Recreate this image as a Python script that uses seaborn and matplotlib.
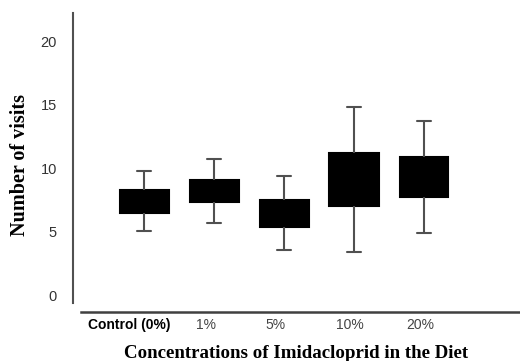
import matplotlib
matplotlib.use("Agg")
import matplotlib.pyplot as plt
import matplotlib.transforms as mtransforms
import seaborn as sns
import pandas as pd

# ---- data ----
categories = ["Control (0%)", "1%", "5%", "10%", "20%"]
whisker_low = [5.05, 5.68, 3.55, 3.40, 4.89]
q1 = [6.49, 7.33, 5.36, 7.04, 7.77]
median = [7.40, 8.20, 6.40, 9.10, 9.30]
q3 = [8.32, 9.08, 7.48, 11.18, 10.86]
whisker_high = [9.79, 10.73, 9.42, 14.80, 13.72]
y_ticks = [0, 5, 10, 15, 20]

rows = []
for i, cat in enumerate(categories):
    for v in (whisker_low[i], q1[i], median[i], q3[i], whisker_high[i]):
        rows.append({"group": cat, "visits": v})
df = pd.DataFrame(rows)

W, H, DPI = 520, 361, 100
fig = plt.figure(figsize=(W / DPI, H / DPI), dpi=DPI)
sns.set_style("white")
plt.rcParams["font.family"] = ["Liberation Sans", "DejaVu Sans"]

ax_left, ax_right, ax_top, ax_bot = 73, 520, 13, 303
ax = fig.add_axes([ax_left / W, 1 - ax_bot / H, (ax_right - ax_left) / W, (ax_bot - ax_top) / H])

line_col = "#505050"
sns.boxplot(data=df, x="group", y="visits", order=categories, ax=ax,
            color="black", saturation=1, width=0.7, whis=(0, 100),
            linecolor=line_col, linewidth=1.5, capwidths=0.19,
            medianprops=dict(color="black"))
for p in ax.patches:
    p.set_facecolor("black")
    p.set_edgecolor("black")

# axis geometry
xmin = -(144 - ax_left) / 70.0
xmax = xmin + (ax_right - ax_left) / 70.0
ax.set_xlim(xmin, xmax)
px_per_unit = 12.72
zero_px = 295.5
ax.set_ylim(-(ax_bot - zero_px) / px_per_unit, (zero_px - ax_top) / px_per_unit)

for s in ("top", "right"):
    ax.spines[s].set_visible(False)
ax.spines["left"].set_color(line_col)
ax.spines["left"].set_linewidth(1.5)
ax.spines["bottom"].set_color("#404040")
ax.spines["bottom"].set_linewidth(1.8)
ax.spines["bottom"].set_position(("outward", 9 * 72 / DPI))
ax.spines["bottom"].set_bounds(-(144 - 81) / 70.0, xmax)

ax.set_yticks(y_ticks)
ax.set_yticklabels([str(t) for t in y_ticks])
ax.tick_params(axis="y", length=0, pad=11.5, labelsize=10.5, labelcolor="#333333")
ax.tick_params(axis="x", length=0, pad=4, labelsize=10)
ax.set_xlabel("")
ax.set_ylabel("")

label_shift_px = [-15, -8, -8, -4, -4]
for lab, dx in zip(ax.get_xticklabels(), label_shift_px):
    if lab.get_text().startswith("Control"):
        lab.set_fontweight("bold")
        lab.set_color("black")
    else:
        lab.set_color("#444444")
    lab.set_transform(lab.get_transform() + mtransforms.ScaledTranslation(dx / DPI, 0, fig.dpi_scale_trans))

fig.text(296 / W, 1 - 353 / H, "Concentrations of Imidacloprid in the Diet",
         family=["Liberation Serif", "DejaVu Serif"], fontweight="bold", fontsize=13.6,
         ha="center", va="center", color="black")
fig.text(20 / W, 1 - 165 / H, "Number of visits",
         family=["Liberation Serif", "DejaVu Serif"], fontweight="bold", fontsize=14.5,
         ha="center", va="center", rotation=90, color="black")

fig.savefig("out.png", dpi=DPI, facecolor="white")
